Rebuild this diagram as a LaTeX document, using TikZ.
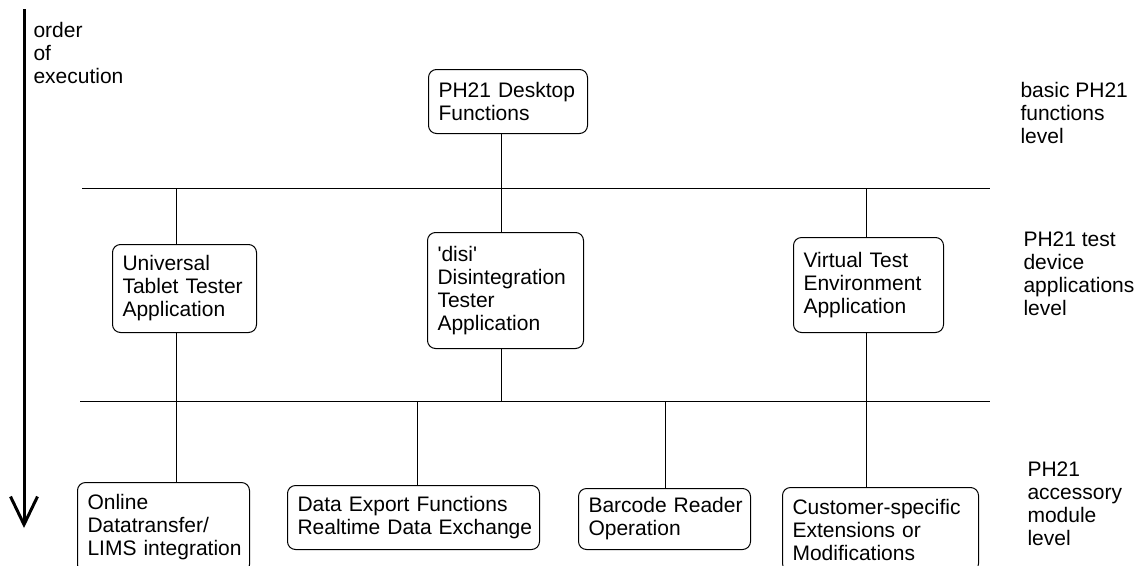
\documentclass[tikz,border=0pt]{standalone}
\usepackage{fontspec}
\setmainfont{Liberation Sans}
\usetikzlibrary{positioning,arrows.meta}
\hyphenpenalty=10000
\exhyphenpenalty=10000

\begin{document}
\begin{tikzpicture}[x=1pt,y=-1pt,line width=1pt,
        main node/.style={draw, rounded corners=8pt, anchor=north west, align=left,
            inner xsep=10pt, inner ysep=0pt, font=\fontsize{21}{23}\selectfont},
        level text/.style={anchor=west, align=left, inner sep=0pt,
            font=\fontsize{21}{23}\selectfont}]

\clip (0,0) rectangle (1147,565);

\node[main node, text width=139pt, minimum height=64pt] (1) at (428,69) {PH21 Desktop\\Functions};

\node[main node, text width=124pt, minimum height=88pt] (2) at (112,244) {Universal\\Tablet~Tester\\Application};
\node[main node, text width=136pt, minimum height=116pt] (3) at (427,232) {\textquotesingle disi\textquotesingle\\Disintegration\\Tester\\Application};
\node[main node, text width=130pt, minimum height=95pt] (4) at (793,237) {Virtual Test\\Environment\\Application};

\node[main node, text width=152pt, minimum height=90pt] (5) at (77,482) {Online\\Datatransfer/\\\mbox{LIMS integration}};
\node[main node, text width=232pt, minimum height=64pt] (6) at (287,485) {\mbox{Data Export Functions}\\\mbox{Realtime Data Exchange}};
\node[main node, text width=152pt, minimum height=61pt] (7) at (578,488) {\mbox{Barcode Reader}\\Operation};
\node[main node, text width=176pt, minimum height=84pt] (8) at (782,487) {\mbox{Customer-specific}\\Extensions or\\Modifications};

\node[level text] (9) at (33,53) {order\\of\\execution};
\node[level text] (10) at (1020,113) {basic PH21\\functions\\level};
\node[level text] (11) at (1023,274) {PH21 test\\device\\applications\\level};
\node[level text] (12) at (1027,504) {PH21\\accessory\\module\\level};

% the two buses
\coordinate (b1l) at (82,188);
\coordinate (b1r) at (990,188);
\coordinate (b2l) at (80,401);
\coordinate (b2r) at (990,401);
\draw (b1l) -- (b1r);
\draw (b2l) -- (b2r);

\coordinate (u1) at (176,188);
\coordinate (d1) at (501,188);
\coordinate (v1) at (866,188);
\coordinate (d2) at (501,401);
\coordinate (e2) at (417,401);
\coordinate (r2) at (665,401);

\draw (1.south -| d1) -- (3.north -| d1);
\draw (u1) -- (2.north -| u1);
\draw (v1) -- (4.north -| v1);
\draw (2.south -| u1) -- (5.north -| u1);
\draw (3.south -| d2) -- (d2);
\draw (e2) -- (6.north -| e2);
\draw (r2) -- (7.north -| r2);
\draw (4.south -| v1) -- (8.north -| v1);

% order of execution
\coordinate (top) at (24,9);
\coordinate (bot) at (24,528);
\draw[line width=3pt, -{Straight Barb[length=28pt,width=27pt]}] (top) -- (bot);

\end{tikzpicture}
\end{document}
